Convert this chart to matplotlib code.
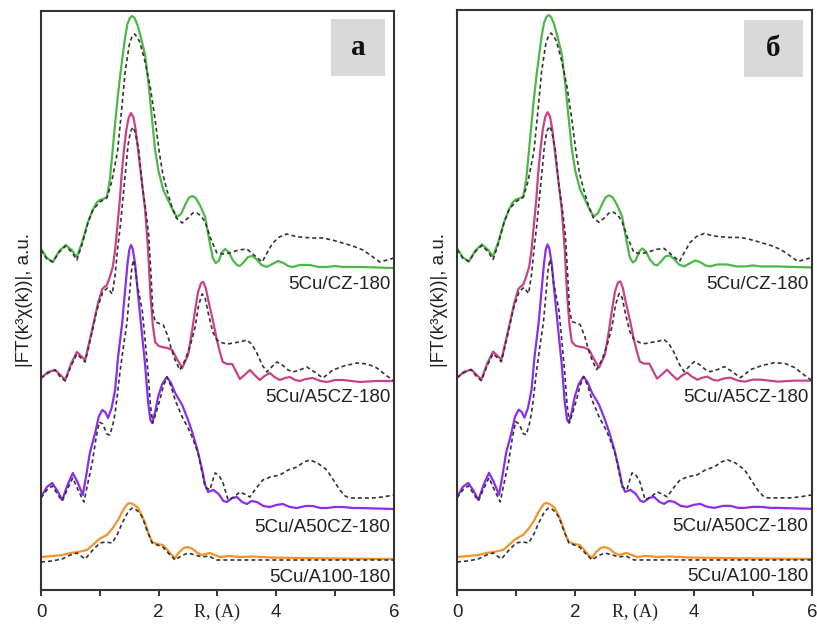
import matplotlib.pyplot as plt
import matplotlib.transforms as mtransforms
from matplotlib.patches import Rectangle

plt.rcParams['font.family'] = ['Liberation Sans', 'DejaVu Sans']

# |FT| curves, already shifted up for stacking (a.u.); solid = experiment, dashed = fit
cz_r = [0.00, 0.10, 0.20, 0.31, 0.42, 0.52, 0.61, 0.70, 0.80, 0.88, 0.94, 1.00, 1.06,
        1.12, 1.17, 1.21, 1.25, 1.29, 1.34, 1.39, 1.43, 1.47, 1.51, 1.55, 1.59, 1.64,
        1.70, 1.77, 1.83, 1.88, 1.94, 2.00, 2.08, 2.16, 2.24, 2.31, 2.38, 2.45, 2.51,
        2.57, 2.63, 2.70, 2.79, 2.86, 2.92, 2.97, 3.02, 3.08, 3.13, 3.19, 3.26, 3.33,
        3.38, 3.45, 3.52, 3.59, 3.66, 3.75, 3.84, 3.93, 4.03, 4.12, 4.20, 4.28, 4.40,
        4.57, 4.72, 4.86, 5.00, 5.13, 5.30, 5.42, 5.70, 6.00]
cz_exp = [34.1, 33.2, 32.8, 33.9, 34.5, 34.0, 33.3, 34.8, 36.8, 38.0, 38.7, 39.0, 39.1,
          39.3, 41.0, 43.5, 46.0, 48.5, 51.2, 53.5, 55.3, 56.6, 57.2, 57.4, 57.2, 56.5,
          55.2, 53.5, 50.5, 47.5, 44.0, 41.8, 40.0, 39.0, 38.0, 37.3, 37.6, 38.5, 39.2,
          39.4, 39.2, 38.5, 37.3, 35.0, 33.2, 32.7, 32.9, 33.8, 34.1, 33.8, 33.0, 32.5,
          32.4, 32.8, 33.3, 33.4, 33.1, 32.5, 32.3, 32.6, 32.9, 32.7, 32.4, 32.3, 32.5,
          32.5, 32.3, 32.3, 32.4, 32.3, 32.3, 32.3, 32.25, 32.2]
cz_fit_r = [0.00, 0.10, 0.20, 0.31, 0.42, 0.52, 0.61, 0.70, 0.80, 0.88, 1.00, 1.12, 1.20,
            1.30, 1.37, 1.43, 1.50, 1.55, 1.59, 1.63, 1.68, 1.77, 1.86, 1.94, 2.01, 2.07,
            2.14, 2.22, 2.30, 2.40, 2.50, 2.58, 2.65, 2.72, 2.79, 2.88, 2.99, 3.10, 3.21,
            3.36, 3.50, 3.62, 3.76, 3.85, 3.94, 4.05, 4.18, 4.30, 4.40, 4.60, 4.79, 4.95,
            5.13, 5.30, 5.47, 5.62, 5.76, 5.88, 6.00]
cz_fit = [34.0, 33.1, 32.8, 33.8, 34.4, 33.8, 33.0, 34.6, 36.8, 38.0, 38.8, 39.2, 40.8,
          43.8, 48.0, 51.8, 54.5, 55.4, 55.6, 55.3, 54.8, 52.8, 50.2, 47.0, 43.8, 41.6,
          40.0, 38.4, 37.2, 36.7, 37.2, 37.7, 37.7, 37.4, 36.8, 35.2, 33.7, 33.6, 33.7,
          34.0, 34.1, 33.5, 32.8, 33.8, 34.7, 35.3, 35.6, 35.4, 35.3, 35.2, 35.2, 35.0,
          34.7, 34.4, 34.0, 33.4, 32.8, 33.0, 33.2]

a5_r = [0.00, 0.12, 0.24, 0.33, 0.41, 0.51, 0.61, 0.68, 0.75, 0.86, 0.97, 1.04, 1.12,
        1.17, 1.22, 1.26, 1.30, 1.34, 1.37, 1.41, 1.45, 1.49, 1.53, 1.57, 1.61, 1.65,
        1.70, 1.77, 1.82, 1.86, 1.90, 1.94, 2.00, 2.06, 2.15, 2.23, 2.32, 2.40, 2.50,
        2.57, 2.62, 2.67, 2.72, 2.76, 2.80, 2.85, 2.92, 2.99, 3.04, 3.09, 3.16, 3.25,
        3.32, 3.38, 3.46, 3.55, 3.63, 3.72, 3.80, 3.89, 3.97, 4.06, 4.15, 4.23, 4.32,
        4.40, 4.50, 4.62, 4.75, 4.86, 5.00, 5.13, 5.28, 5.42, 5.70, 6.00]
a5_exp = [21.2, 21.8, 22.0, 21.5, 21.0, 22.6, 23.8, 23.4, 23.0, 25.8, 28.7, 30.1, 30.5,
          31.3, 32.3, 34.0, 36.5, 39.0, 41.5, 44.0, 46.0, 47.2, 47.7, 47.3, 46.0, 44.0,
          41.5, 38.0, 34.0, 29.5, 26.5, 24.8, 24.4, 24.3, 24.2, 24.0, 23.0, 22.2, 23.5,
          26.0, 28.0, 29.8, 30.7, 30.8, 30.2, 28.8, 27.0, 25.0, 23.8, 22.8, 22.6, 22.6,
          21.8, 21.1, 21.5, 22.0, 21.5, 21.0, 21.4, 21.7, 21.3, 21.0, 21.2, 21.3, 21.0,
          20.9, 21.1, 21.2, 20.9, 20.8, 21.0, 21.0, 20.9, 20.8, 20.9, 20.9]
a5_fit_r = [0.00, 0.12, 0.24, 0.33, 0.41, 0.51, 0.61, 0.68, 0.75, 0.85, 0.95, 1.05, 1.13,
            1.21, 1.26, 1.30, 1.35, 1.39, 1.44, 1.48, 1.52, 1.56, 1.60, 1.66, 1.72, 1.78,
            1.83, 1.87, 1.90, 1.94, 1.99, 2.08, 2.16, 2.22, 2.28, 2.36, 2.45, 2.54, 2.62,
            2.68, 2.74, 2.79, 2.85, 2.92, 2.99, 3.09, 3.18, 3.26, 3.38, 3.50, 3.58, 3.67,
            3.76, 3.84, 3.92, 4.01, 4.10, 4.20, 4.28, 4.40, 4.52, 4.65, 4.79, 4.88, 4.96,
            5.15, 5.37, 5.55, 5.71, 5.86, 6.00]
a5_fit = [21.2, 21.7, 22.0, 21.3, 20.9, 22.4, 23.6, 23.2, 22.8, 25.3, 28.0, 29.8, 30.2,
          29.6, 31.5, 34.0, 36.5, 39.0, 42.0, 44.5, 45.8, 46.3, 45.8, 44.0, 40.5, 38.0,
          35.5, 31.5, 28.0, 26.8, 26.7, 26.5, 25.3, 24.0, 23.0, 22.0, 23.0, 24.5, 26.3,
          28.5, 29.6, 29.2, 27.5, 25.8, 25.0, 24.7, 24.6, 24.7, 24.8, 25.0, 24.6, 23.7,
          22.5, 21.8, 22.3, 22.8, 22.5, 22.0, 21.8, 22.0, 22.3, 21.8, 21.2, 21.6, 22.0,
          22.4, 22.7, 22.6, 22.2, 21.5, 20.9]

a50_r = [0.00, 0.10, 0.19, 0.28, 0.36, 0.45, 0.54, 0.62, 0.71, 0.77, 0.83, 0.92, 0.98,
         1.04, 1.09, 1.14, 1.20, 1.26, 1.31, 1.38, 1.43, 1.47, 1.50, 1.53, 1.56, 1.60,
         1.65, 1.71, 1.77, 1.82, 1.86, 1.89, 1.94, 1.99, 2.06, 2.14, 2.21, 2.28, 2.40,
         2.50, 2.57, 2.66, 2.74, 2.79, 2.84, 2.93, 3.02, 3.10, 3.16, 3.25, 3.33, 3.42,
         3.50, 3.58, 3.67, 3.78, 3.89, 4.00, 4.11, 4.23, 4.35, 4.50, 4.62, 4.75, 4.86,
         5.00, 5.13, 5.30, 5.42, 5.70, 6.00]
a50_exp = [9.3, 10.3, 10.7, 9.9, 9.0, 10.5, 11.7, 10.8, 9.5, 11.5, 13.7, 15.7, 17.3,
           18.0, 17.8, 17.2, 18.2, 20.0, 23.3, 26.7, 30.0, 32.6, 34.0, 34.5, 34.1, 32.6,
           29.5, 26.0, 22.5, 18.8, 17.0, 16.7, 17.8, 19.3, 20.6, 21.3, 20.7, 19.7, 18.5,
           17.0, 15.8, 14.0, 12.0, 10.5, 9.8, 10.0, 9.6, 8.9, 8.8, 9.2, 9.3, 8.8,
           8.6, 8.9, 8.8, 8.4, 8.3, 8.5, 8.6, 8.3, 8.2, 8.4, 8.4, 8.2, 8.2,
           8.3, 8.3, 8.2, 8.2, 8.15, 8.1]
a50_fit_r = [0.00, 0.10, 0.19, 0.28, 0.36, 0.45, 0.54, 0.63, 0.73, 0.80, 0.87, 0.93, 0.99,
             1.05, 1.12, 1.17, 1.22, 1.26, 1.30, 1.34, 1.40, 1.46, 1.51, 1.54, 1.57, 1.60,
             1.63, 1.67, 1.72, 1.77, 1.82, 1.86, 1.90, 1.95, 2.02, 2.08, 2.14, 2.21, 2.28,
             2.40, 2.50, 2.57, 2.67, 2.73, 2.79, 2.87, 2.92, 2.96, 3.02, 3.09, 3.14, 3.18,
             3.28, 3.38, 3.46, 3.55, 3.66, 3.77, 3.90, 4.06, 4.20, 4.35, 4.47, 4.57, 4.70,
             4.86, 4.97, 5.08, 5.17, 5.25, 5.45, 5.64, 5.80, 6.00]
a50_fit = [9.2, 10.0, 10.4, 9.6, 8.9, 10.1, 11.2, 10.0, 8.8, 10.8, 12.7, 15.0, 16.8,
           16.6, 15.6, 15.5, 16.5, 17.7, 19.6, 21.7, 24.3, 26.7, 30.0, 32.0, 33.0, 32.3,
           30.7, 29.5, 28.0, 25.0, 21.7, 18.5, 16.7, 17.6, 19.0, 20.4, 21.3, 20.4, 19.0,
           17.3, 16.2, 15.3, 13.7, 12.0, 10.3, 10.0, 11.0, 11.7, 11.5, 10.8, 9.8, 9.0,
           9.3, 9.8, 9.6, 9.3, 10.2, 11.0, 11.3, 11.5, 12.0, 12.3, 12.8, 13.0, 12.7,
           12.0, 11.0, 10.0, 9.4, 9.2, 9.2, 9.2, 9.3, 9.5]

a100_r = [0.00, 0.20, 0.36, 0.50, 0.63, 0.78, 0.88, 0.97, 1.05, 1.12, 1.22, 1.31, 1.37,
          1.42, 1.47, 1.51, 1.56, 1.61, 1.65, 1.71, 1.77, 1.83, 1.89, 1.98, 2.07, 2.15,
          2.22, 2.28, 2.35, 2.43, 2.50, 2.58, 2.66, 2.74, 2.80, 2.87, 2.95, 3.04, 3.20,
          3.38, 3.60, 3.90, 4.40, 5.00, 6.00]
a100_exp = [3.3, 3.4, 3.5, 3.7, 3.8, 4.0, 4.5, 5.0, 5.3, 5.5, 6.2, 7.0, 7.7,
            8.2, 8.6, 8.7, 8.6, 8.4, 8.2, 7.5, 6.7, 5.6, 4.8, 4.6, 4.5, 4.0,
            3.5, 3.2, 3.8, 4.2, 4.3, 4.1, 3.7, 3.5, 3.6, 3.7, 3.5, 3.3, 3.4,
            3.3, 3.35, 3.25, 3.2, 3.15, 3.1]
a100_fit_r = [0.00, 0.18, 0.36, 0.50, 0.61, 0.68, 0.75, 0.88, 1.00, 1.10, 1.21, 1.30,
              1.38, 1.46, 1.51, 1.55, 1.60, 1.66, 1.72, 1.80, 1.89, 1.98, 2.07, 2.18,
              2.28, 2.38, 2.50, 2.62, 2.74, 2.85, 2.99, 3.20, 3.55, 4.50, 6.00]
a100_fit = [2.8, 2.9, 3.1, 3.5, 3.7, 3.4, 3.1, 4.0, 4.7, 4.8, 4.7, 5.6,
            6.7, 7.6, 8.0, 8.2, 8.1, 7.8, 7.3, 6.0, 4.7, 4.5, 4.3, 3.6,
            3.0, 3.4, 3.7, 3.5, 3.3, 3.4, 3.0, 3.0, 3.0, 3.0, 3.0]

sample_names = ['5Cu/CZ-180', '5Cu/A5CZ-180', '5Cu/A50CZ-180', '5Cu/A100-180']
name_y = [30.5, 19.2, 6.3, 1.3]
colors = ['#4cb847', '#c8428a', '#8a2df0', '#f5922a']

curves = [(cz_r, cz_exp, cz_fit_r, cz_fit),
          (a5_r, a5_exp, a5_fit_r, a5_fit),
          (a50_r, a50_exp, a50_fit_r, a50_fit),
          (a100_r, a100_exp, a100_fit_r, a100_fit)]

fig = plt.figure(figsize=(8.17, 6.27), dpi=100)
ax_a = fig.add_axes([0.0502, 0.059, 0.432, 0.9235])
ax_b = fig.add_axes([0.5594, 0.059, 0.4345, 0.925])

panels = [(ax_a, 'а', (0.822, 0.888, 0.153, 0.098)),
          (ax_b, 'б', (0.808, 0.884, 0.167, 0.099))]

for ax, letter, box in panels:
    for (r, y, fr, fy), c in zip(curves, colors):
        ax.plot(r, y, color=c, lw=1.6, solid_joinstyle='round')
        ax.plot(fr, fy, color='#333333', lw=1.2, ls=(0, (2.4, 1.8)))

    trans = mtransforms.blended_transform_factory(ax.transAxes, ax.transData)
    for name, ny in zip(sample_names, name_y):
        ax.text(0.99, ny, name, transform=trans, ha='right', va='center',
                fontsize=13.5, color='#222222')

    ax.set_xlim(0, 6)
    ax.set_ylim(0, 57.9)
    ax.set_yticks([])
    ax.set_xticks([0, 2, 4, 6])
    ax.set_xticks([1, 3, 5], minor=True)
    ax.tick_params(axis='x', which='both', direction='out', length=4, width=1.4,
                   color='#333333', labelsize=13.5, pad=6, labelcolor='#222222')
    for s in ax.spines.values():
        s.set_linewidth(1.5)
        s.set_color('#333333')

    ax.set_xlabel('R, (A)', fontfamily='Liberation Serif', fontsize=13, color='#222222')
    ax.xaxis.set_label_coords(0.5, -0.038)
    ax.xaxis.label.set_va('center')
    ax.set_ylabel('|FT(k³χ(k))|, a.u.', fontsize=13.5, color='#222222')
    ax.yaxis.set_label_coords(-0.048, 0.5)
    ax.yaxis.label.set_va('center')

    bx, by, bw, bh = box
    ax.add_patch(Rectangle((bx, by), bw, bh, transform=ax.transAxes,
                           facecolor='#d9d9d9', edgecolor='none'))
    ax.text(bx + bw / 2, by + bh / 2, letter, transform=ax.transAxes,
            ha='center', va='center', fontsize=21, fontweight='bold',
            fontfamily='Liberation Serif', color='#111111')

fig.savefig('out.png', dpi=100)
